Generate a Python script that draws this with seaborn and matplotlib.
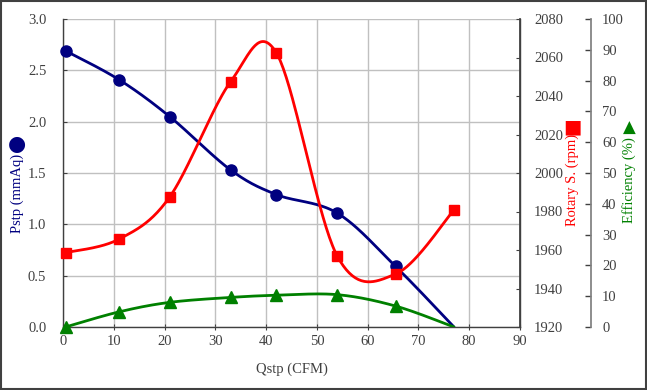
import numpy as np
import pandas as pd
import matplotlib
matplotlib.use("Agg")
import matplotlib.pyplot as plt
import seaborn as sns
from matplotlib.patches import Rectangle

# ---- data ----
qstp = [0.5, 11, 21, 33, 42, 54, 65.5, 77]
pstp = [2.69, 2.41, 2.05, 1.53, 1.29, 1.11, 0.59, 0.0]
rpm = [1958.6, 1965.6, 1987.5, 2047.4, 2062.5, 1956.9, 1947.5, 1980.8]
eff = [0.0, 4.9, 8.0, 9.6, 10.3, 10.5, 6.8, 0.0]

x_ticks = [0, 10, 20, 30, 40, 50, 60, 70, 80, 90]
p_ticks = [0.0, 0.5, 1.0, 1.5, 2.0, 2.5, 3.0]
r_ticks = [1920, 1940, 1960, 1980, 2000, 2020, 2040, 2060, 2080]
e_ticks = [0, 10, 20, 30, 40, 50, 60, 70, 80, 90, 100]

NAVY = "#000080"
RED = "#FF0000"
GREEN = "#008000"
TXT = "#404040"

sns.set_theme(style="white")
plt.rcParams["font.family"] = ["Liberation Serif", "DejaVu Serif"]
plt.rcParams["text.color"] = TXT
FS = 10.5


def smooth(x, y, n=40):
    pts = np.column_stack([np.asarray(x, float), np.asarray(y, float)])
    m = len(pts)
    out = []
    t = np.linspace(0, 1, n)[:, None]
    for i in range(m - 1):
        p0 = pts[max(i - 1, 0)]
        p1 = pts[i]
        p2 = pts[i + 1]
        p3 = pts[min(i + 2, m - 1)]
        c1 = p1 + (p2 - p0) / 6.0
        c2 = p2 - (p3 - p1) / 6.0
        seg = ((1 - t) ** 3) * p1 + 3 * ((1 - t) ** 2) * t * c1 + 3 * (1 - t) * t ** 2 * c2 + t ** 3 * p2
        out.append(seg if i == 0 else seg[1:])
    s = np.vstack(out)
    return pd.DataFrame({"x": s[:, 0], "y": s[:, 1]})


W, H = 647, 390
fig = plt.figure(figsize=(W / 100, H / 100), dpi=100)
L, R, T, B = 63, 520, 19, 327
ax = fig.add_axes([L / W, 1 - B / H, (R - L) / W, (B - T) / H])
ax2 = ax.twinx()
ax3 = ax.twinx()
ax3.spines["right"].set_position(("axes", (591 - L) / (R - L)))

# series (the last zero-valued points show no marker in the reference)
d1 = smooth(qstp, pstp)
sns.lineplot(data=d1, x="x", y="y", sort=False, estimator=None, ax=ax, color=NAVY, linewidth=2.0)
ax.plot(qstp[:-1], pstp[:-1], linestyle="none", marker="o", markersize=8, color=NAVY,
        clip_on=False, zorder=5)

d2 = smooth(qstp, rpm)
sns.lineplot(data=d2, x="x", y="y", sort=False, estimator=None, ax=ax2, color=RED, linewidth=2.0)
ax2.plot(qstp, rpm, linestyle="none", marker="s", markersize=7.5, color=RED, clip_on=False, zorder=5)

d3 = smooth(qstp, eff)
sns.lineplot(data=d3, x="x", y="y", sort=False, estimator=None, ax=ax3, color=GREEN, linewidth=2.0)
ax3.plot(qstp[:-1], eff[:-1], linestyle="none", marker="^", markersize=8, color=GREEN,
         clip_on=False, zorder=5)

# main axis
ax.set_xlim(0, 90)
ax.set_ylim(0, 3.0)
ax.set_xticks(x_ticks)
ax.set_yticks(p_ticks)
ax.set_xticklabels([str(v) for v in x_ticks])
ax.set_yticklabels([f"{v:.1f}" for v in p_ticks])
ax.grid(True, color="#c0c0c0", linewidth=1.0)
ax.set_axisbelow(True)
for s in ["left", "bottom", "right", "top"]:
    ax.spines[s].set_color("#404040")
    ax.spines[s].set_linewidth(1.0)
ax.spines["top"].set_visible(False)
ax.tick_params(axis="x", direction="inout", length=4, width=0.8, color="#404040",
               labelsize=FS, labelcolor=TXT, pad=4, bottom=True)
ax.tick_params(axis="y", direction="in", length=3, width=0.8, color="#404040",
               labelsize=FS, labelcolor=TXT, pad=12, left=True)
ax.set_xlabel("Qstp (CFM)", fontsize=FS, color=TXT, labelpad=10)
ax.set_ylabel("")

# rpm axis
ax2.set_ylim(1920, 2080)
ax2.set_yticks(r_ticks)
ax2.set_yticklabels([str(v) for v in r_ticks])
ax2.tick_params(axis="y", direction="in", length=3, width=0.8, color="#404040",
                labelsize=FS, labelcolor=TXT, pad=10)
for s in ["left", "bottom", "top"]:
    ax2.spines[s].set_visible(False)
ax2.spines["right"].set_color("#404040")
ax2.set_ylabel("")
ax2.set_xlabel("")
ax2.grid(False)

# efficiency axis
ax3.set_ylim(0, 100)
ax3.set_yticks(e_ticks)
ax3.set_yticklabels([str(v) for v in e_ticks])
ax3.tick_params(axis="y", direction="in", length=4, width=1.0, color="#404040",
                labelsize=FS, labelcolor=TXT, pad=8)
for s in ["left", "bottom", "top"]:
    ax3.spines[s].set_visible(False)
ax3.spines["right"].set_color("#808080")
ax3.set_ylabel("")
ax3.set_xlabel("")
ax3.grid(False)

ax.set_xlim(0, 90)

# axis titles with marker symbols
fig.text(17 / W, 1 - 193 / H, "Pstp (mmAq)", rotation=90, ha="center", va="center",
         fontsize=FS, color=NAVY)
fig.text(17 / W, 1 - 144 / H, "●", ha="center", va="center", fontsize=15, color=NAVY,
         family="DejaVu Sans")
fig.text(572 / W, 1 - 180 / H, "Rotary S. (rpm)", rotation=90, ha="center", va="center",
         fontsize=FS, color=RED)
fig.text(572 / W, 1 - 127 / H, "■", ha="center", va="center", fontsize=14, color=RED,
         family="DejaVu Sans")
fig.text(629 / W, 1 - 180 / H, "Efficiency (%)", rotation=90, ha="center", va="center",
         fontsize=FS, color=GREEN)
fig.text(629 / W, 1 - 128 / H, "▲", ha="center", va="center", fontsize=12, color=GREEN,
         family="DejaVu Sans")

# figure frame
fig.patches.append(Rectangle((0.001, 0.002), 0.997, 0.996, transform=fig.transFigure,
                             fill=False, edgecolor="#404040", linewidth=1.5))

fig.savefig("out.png", dpi=100)
